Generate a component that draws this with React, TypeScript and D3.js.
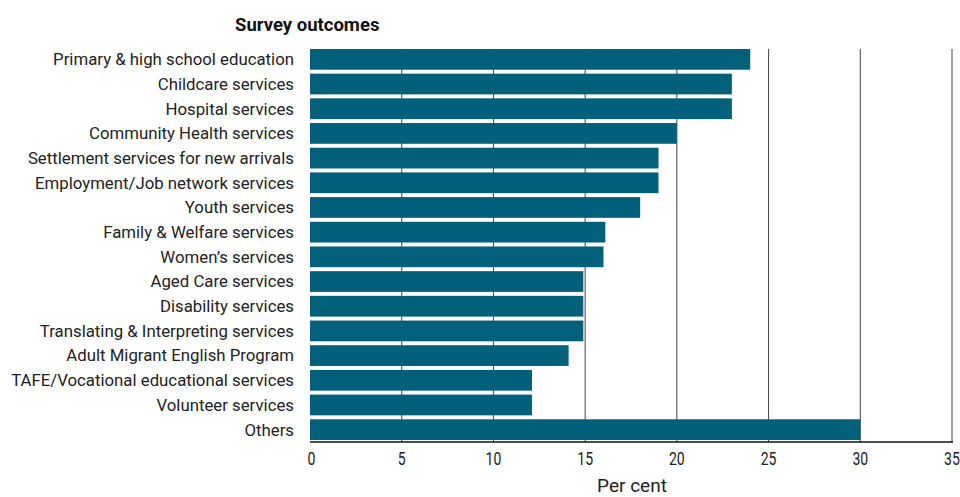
import React from "react";
import * as d3 from "d3";

const categories = [
  "Primary & high school education",
  "Childcare services",
  "Hospital services",
  "Community Health services",
  "Settlement services for new arrivals",
  "Employment/Job network services",
  "Youth services",
  "Family & Welfare services",
  "Women’s services",
  "Aged Care services",
  "Disability services",
  "Translating & Interpreting services",
  "Adult Migrant English Program",
  "TAFE/Vocational educational services",
  "Volunteer services",
  "Others",
];
const values = [24, 23, 23, 20, 19, 19, 18, 16.1, 16, 14.9, 14.9, 14.9, 14.1, 12.1, 12.1, 30];
const xTicks = [0, 5, 10, 15, 20, 25, 30, 35];
const title = "Survey outcomes";
const xTitle = "Per cent";

const W = 960;
const H = 497;
const left = 310;
const right = 952;
const top = 47;
const bottom = 442;
const barColor = "#02607a";
const font = "Roboto, 'Liberation Sans', sans-serif";

export default function App() {
  const x = d3.scaleLinear().domain([0, 35]).range([left, right]);
  const y = d3.scaleBand<string>().domain(categories).range([top, bottom]).paddingInner(0.16).paddingOuter(0.08);
  return (
    <svg width={W} height={H} style={{ position: "absolute", left: 0, top: 0, background: "#fff" }}>
      <text x={235} y={31} fontFamily={font} fontWeight="bold" fontSize={18.5} fill="#111">{title}</text>
      {xTicks.filter((t) => t > 0).map((t) => (
        <line key={t} x1={x(t)} x2={x(t)} y1={y(categories[0])} y2={bottom} stroke="#444" strokeWidth={1} />
      ))}
      {categories.map((c, i) => (
        <g key={c}>
          <rect x={x(0)} y={y(c)} width={x(values[i]) - x(0)} height={y.bandwidth()} fill={barColor} />
          <text x={294} y={(y(c) as number) + y.bandwidth() / 2} dy="0.35em" textAnchor="end" fontFamily={font} fontSize={16.8} fill="#222">{c}</text>
        </g>
      ))}
      <line x1={left} x2={right + 1} y1={bottom} y2={bottom} stroke="#111" strokeWidth={1.5} />
      {xTicks.map((t) => (
        <text key={t} x={x(t) + (t === 0 ? 2 : 0)} y={465} textAnchor="middle" fontFamily={font} fontSize={18} fill="#222" transform={`translate(${x(t)},0) scale(0.78,1) translate(${-x(t)},0)`}>{t}</text>
      ))}
      <text x={632} y={492} textAnchor="middle" fontFamily={font} fontSize={19} fill="#222">{xTitle}</text>
    </svg>
  );
}
